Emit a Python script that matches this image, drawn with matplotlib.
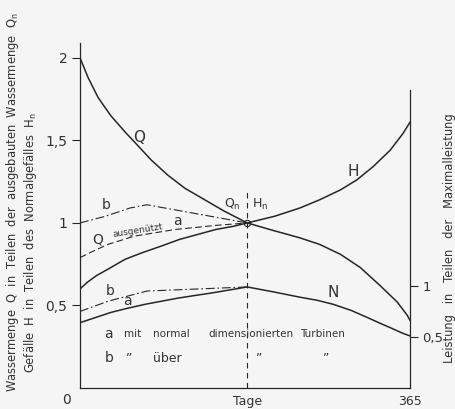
import matplotlib
matplotlib.use('Agg')
import matplotlib.pyplot as plt
from matplotlib import font_manager

names = {f.name for f in font_manager.fontManager.ttflist}
fam = [n for n in ['Liberation Sans Narrow', 'DejaVu Sans Condensed'] if n in names] + ['DejaVu Sans']
plt.rcParams['font.family'] = fam

# Wassermenge Q (Teile von Qn), linke Achse
q_days = [0, 9, 20, 34, 50, 62, 79, 97, 116, 138, 160, 185,
          210, 243, 265, 288, 310, 332, 351, 362, 365]
q_vals = [2.0, 1.88, 1.76, 1.65, 1.55, 1.48, 1.38, 1.29, 1.21, 1.14, 1.07, 1.0,
          0.96, 0.91, 0.87, 0.81, 0.73, 0.62, 0.52, 0.44, 0.41]

# Gefaelle H (Teile von Hn)
h_days = [0, 8, 18, 31, 50, 69, 90, 110, 130, 150, 170, 185,
          215, 243, 265, 288, 306, 324, 343, 357, 365]
h_vals = [0.60, 0.64, 0.68, 0.72, 0.78, 0.82, 0.86, 0.90, 0.93, 0.96, 0.98, 1.0,
          1.04, 1.09, 1.14, 1.20, 1.26, 1.34, 1.44, 1.54, 1.61]

# Q ausgenuetzt (a) und b
qa_days = [0, 15, 31, 60, 105, 150, 185]
qa_vals = [0.79, 0.83, 0.87, 0.92, 0.96, 0.985, 1.0]
qb_days = [0, 28, 55, 74, 185]
qb_vals = [1.0, 1.04, 1.09, 1.11, 1.0]

# Leistung N (Teile der Maximalleistung), rechte Achse
n_days = [0, 17, 34, 52, 72, 90, 108, 126, 145, 165, 185,
          215, 243, 262, 280, 300, 318, 333, 346, 356, 365]
n_vals = [0.64, 0.69, 0.74, 0.78, 0.82, 0.85, 0.88, 0.905, 0.93, 0.96, 0.99,
          0.94, 0.89, 0.86, 0.82, 0.76, 0.69, 0.63, 0.58, 0.54, 0.51]
nb_days = [0, 31, 74, 185]
nb_vals = [0.75, 0.85, 0.95, 0.99]

day_n = 185

ink = '#262626'
txt = '#333333'
bg = '#f5f5f5'

fig = plt.figure(figsize=(4.56, 4.09), dpi=100, facecolor=bg)
ax = fig.add_axes([80/456, 21/409, 330/456, 345/409])
ax.set_facecolor(bg)
ax.set_xlim(0, 365)
ax.set_ylim(0, 2.09)

ax.plot(q_days, q_vals, color=ink, lw=1.1)
ax.plot(h_days, h_vals, color=ink, lw=1.1)
ax.plot(qa_days, qa_vals, color=ink, lw=0.8, dashes=(6, 3))
ax.plot(qb_days, qb_vals, color=ink, lw=0.8, dashes=(8, 2.5, 1.5, 2.5))
ax.plot([day_n, day_n], [0, 1.21], color=ink, lw=0.8, dashes=(5, 4))
ax.plot([day_n], [1.0], 'o', ms=4.5, mfc='none', mec=ink, mew=0.8)

for s in ['top', 'right']:
    ax.spines[s].set_visible(False)
for s in ['left', 'bottom']:
    ax.spines[s].set_color(ink)
    ax.spines[s].set_linewidth(0.9)

ax.set_yticks([0.5, 1, 1.5, 2], ['0,5', '1', '1,5', '2'])
ax.tick_params(axis='y', length=6, width=0.8, color=ink, pad=3, labelsize=10, labelcolor=txt)
ax.set_xticks([day_n, 365], ['Tage', '365'])
ax.tick_params(axis='x', length=0, pad=5, labelsize=9, labelcolor=txt)
ax.text(-0.04, -0.035, '0', transform=ax.transAxes, ha='center', va='center', fontsize=10, color=txt)

ax2 = ax.twinx()
ax2.set_ylim(0, 3.38)
ax2.plot(n_days, n_vals, color=ink, lw=1.1)
ax2.plot(nb_days, nb_vals, color=ink, lw=0.8, dashes=(8, 2.5, 1.5, 2.5))
for s in ['top', 'left', 'bottom']:
    ax2.spines[s].set_visible(False)
ax2.spines['right'].set_bounds(0, 2.92)
ax2.spines['right'].set_color(ink)
ax2.spines['right'].set_linewidth(0.9)
ax2.set_yticks([0.5, 1], ['0,5', '1'])
ax2.tick_params(axis='y', length=6, width=0.8, color=ink, pad=3, labelsize=9.5, labelcolor=txt)

# Achsentitel
fig.text(13/456, 1 - 202/409, 'Wassermenge  Q  in  Teilen  der  ausgebauten  Wassermenge  Q$_\\mathregular{n}$',
         rotation=90, ha='center', va='center', fontsize=8.3, color=txt)
fig.text(31/456, 1 - 243/409, 'Gefälle  H  in  Teilen  des  Normalgefälles  H$_\\mathregular{n}$',
         rotation=90, ha='center', va='center', fontsize=8.3, color=txt)
fig.text(450/456, 1 - 238/409, 'Leistung   in   Teilen   der   Maximalleistung',
         rotation=90, ha='center', va='center', fontsize=8.3, color=txt)

# Beschriftungen im Diagramm
kw = dict(ha='center', va='center', color=txt)
ax.text(65, 1.52, 'Q', fontsize=11, **kw)
ax.text(302, 1.31, 'H', fontsize=11, **kw)
ax.text(280, 0.58, 'N', fontsize=11, **kw)
ax.text(169, 1.11, 'Q$_\\mathregular{n}$', fontsize=9, **kw)
ax.text(199, 1.11, 'H$_\\mathregular{n}$', fontsize=9, **kw)
ax.text(29, 1.11, 'b', fontsize=10, **kw)
ax.text(20, 0.90, 'Q', fontsize=10, **kw)
ax.text(64, 0.955, 'ausgenützt', fontsize=6.5, rotation=9, **kw)
ax.text(108, 1.01, 'a', fontsize=10, **kw)
ax.text(33, 0.59, 'b', fontsize=10, **kw)
ax.text(53, 0.53, 'a', fontsize=10, **kw)

ax.text(32, 0.33, 'a', fontsize=10, **kw)
ax.text(58, 0.33, 'mit', fontsize=7.5, **kw)
ax.text(101, 0.33, 'normal', fontsize=7.5, **kw)
ax.text(189, 0.33, 'dimensionierten', fontsize=7.5, **kw)
ax.text(268, 0.33, 'Turbinen', fontsize=7.5, **kw)
ax.text(32, 0.18, 'b', fontsize=10, **kw)
ax.text(54, 0.18, '”', fontsize=9, **kw)
ax.text(97, 0.18, 'über', fontsize=9, **kw)
ax.text(198, 0.18, '”', fontsize=9, **kw)
ax.text(272, 0.18, '”', fontsize=9, **kw)

fig.savefig('out.png', dpi=100, facecolor=bg)
